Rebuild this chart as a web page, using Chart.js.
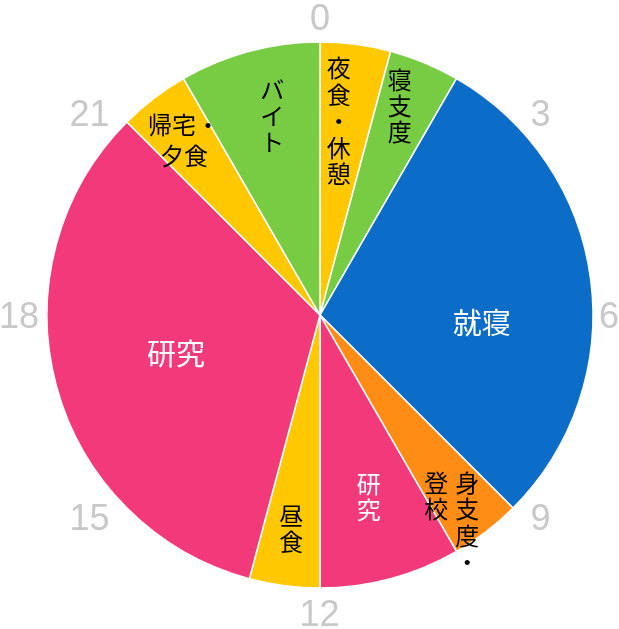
<!DOCTYPE html>
<html>
<head>
<meta charset="utf-8">
<script src="https://cdn.jsdelivr.net/npm/chart.js@4.4.0/dist/chart.umd.min.js"></script>
<style>
  html, body { margin: 0; padding: 0; background: #fff; }
  #wrap { width: 619px; height: 629px; position: relative; }
</style>
</head>
<body>
<div id="wrap"><canvas id="c"></canvas></div>
<script>
// Activities in clockwise order starting at 0:00
const activities = ['夜食・休憩', '寝支度', '就寝', '身支度・登校', '研究', '昼食', '研究', '帰宅・夕食', 'バイト'];
// Duration of each activity in hours
const hours = [1, 1, 7, 1, 2, 1, 8, 1, 2];
// Hour tick labels around the clock
const hourTicks = ['0', '3', '6', '9', '12', '15', '18', '21'];
const hourTickValues = [0, 3, 6, 9, 12, 15, 18, 21];

const colors = ['#FFC800', '#77CC44', '#0B6DC7', '#FF8C14', '#F23A7B', '#FFC800', '#F23A7B', '#FFC800', '#77CC44'];

// label layout: mode v = vertical columns (right to left), h = horizontal lines
const labelLayout = [
  { lines: ['夜食・休憩'], mode: 'v', t: 0.37, rf: 0.714, size: 24, color: '#000' },
  { lines: ['寝支度'], mode: 'v', t: 0.39, rf: 0.82, size: 24, color: '#000' },
  { lines: ['就寝'], mode: 'h', t: 0.60, rf: 0.593, size: 29, color: '#fff' },
  { lines: ['身支度・', '登校'], mode: 'v', t: 0.84, rf: 0.90, size: 24, color: '#000', top: true },
  { lines: ['研究'], mode: 'v', t: 0.5, rf: 0.69, size: 24, color: '#fff' },
  { lines: ['昼食'], mode: 'v', t: 0.51, rf: 0.79, size: 24, color: '#000' },
  { lines: ['研究'], mode: 'h', t: 0.5, rf: 0.546, size: 29, color: '#fff' },
  { lines: ['帰宅・', '夕食'], mode: 'h', t: 0.47, rf: 0.81, size: 24, color: '#000' },
  { lines: ['バイト'], mode: 'v', t: 0.55, rf: 0.75, size: 24, color: '#000' }
];

const JP = '"Noto Sans CJK JP", "Noto Sans", sans-serif';

const labelPlugin = {
  id: 'segLabels',
  afterDatasetsDraw(chart) {
    const ctx = chart.ctx;
    const meta = chart.getDatasetMeta(0);
    ctx.save();
    ctx.textAlign = 'center';
    ctx.textBaseline = 'middle';
    meta.data.forEach((arc, i) => {
      const L = labelLayout[i];
      if (!L) return;
      const p = arc.getProps(['x', 'y', 'startAngle', 'endAngle', 'outerRadius'], true);
      const a = p.startAngle + L.t * (p.endAngle - p.startAngle);
      const r = L.rf * p.outerRadius;
      const cx = p.x + r * Math.cos(a);
      const cy = p.y + r * Math.sin(a);
      ctx.fillStyle = L.color;
      ctx.font = L.size + 'px ' + JP;
      if (L.mode === 'h') {
        const gap = L.size * 1.29;
        const n = L.lines.length;
        L.lines.forEach((line, j) => {
          ctx.fillText(line, cx, cy + (j - (n - 1) / 2) * gap);
        });
      } else {
        const pitch = L.size * 1.1;
        const colGap = L.size * 1.29;
        const n = L.lines.length;
        const maxLen = Math.max(...L.lines.map(s => s.length));
        L.lines.forEach((line, j) => {
          const x = cx + ((n - 1) / 2 - j) * colGap;
          const len = L.top ? maxLen : line.length;
          const top = cy - len * pitch / 2;
          [...line].forEach((ch, k) => {
            ctx.fillText(ch, x, top + pitch * (k + 0.5));
          });
        });
      }
    });
    ctx.restore();
  }
};

// Hour labels placed just outside the circle
const hourPlugin = {
  id: 'hourTicks',
  afterDraw(chart) {
    const ctx = chart.ctx;
    const arc = chart.getDatasetMeta(0).data[0];
    const p = arc.getProps(['x', 'y', 'outerRadius'], true);
    const total = hours.reduce((s, v) => s + v, 0);
    const R = p.outerRadius + 12;
    ctx.save();
    ctx.fillStyle = '#C8C8C8';
    ctx.font = '36px "Liberation Sans", Arial, sans-serif';
    ctx.textAlign = 'left';
    ctx.textBaseline = 'alphabetic';
    hourTickValues.forEach((h, i) => {
      const a = -Math.PI / 2 + (h / total) * Math.PI * 2;
      const c = Math.cos(a), s = Math.sin(a);
      const m = ctx.measureText(hourTicks[i]);
      const inkL = m.actualBoundingBoxLeft, inkR = m.actualBoundingBoxRight;
      const asc = m.actualBoundingBoxAscent, desc = m.actualBoundingBoxDescent;
      const w = inkL + inkR, hgt = asc + desc;
      const sx = Math.abs(c) < 0.1 ? 0 : Math.sign(c);
      const sy = Math.abs(s) < 0.1 ? 0 : Math.sign(s);
      let bx, by;
      if (sx === 0) {            // top / bottom
        bx = p.x; by = p.y + (R) * s + sy * hgt / 2;
      } else if (sy === 0) {     // left / right
        bx = p.x + (R - 3) * c + sx * w / 2; by = p.y;
      } else {                   // diagonals: vertically centred, pushed sideways
        bx = p.x + R * c + sx * (w / 2 + 10); by = p.y + R * s;
      }
      bx = Math.min(bx, chart.width - 1 - w / 2);
      bx = Math.max(bx, 1 + w / 2);
      ctx.fillText(hourTicks[i], bx - w / 2 + inkL, by - hgt / 2 + asc);
    });
    ctx.restore();
  }
};

new Chart(document.getElementById('c'), {
  type: 'pie',
  data: {
    labels: activities,
    datasets: [{
      data: hours,
      backgroundColor: colors,
      borderColor: '#ffffff',
      borderWidth: 1.5
    }]
  },
  options: {
    responsive: true,
    maintainAspectRatio: false,
    animation: false,
    radius: 273,
    layout: { padding: { left: 21, right: 0, top: 1, bottom: 0 } },
    plugins: {
      legend: { display: false },
      tooltip: { enabled: false }
    }
  },
  plugins: [labelPlugin, hourPlugin]
});
</script>
</body>
</html>
